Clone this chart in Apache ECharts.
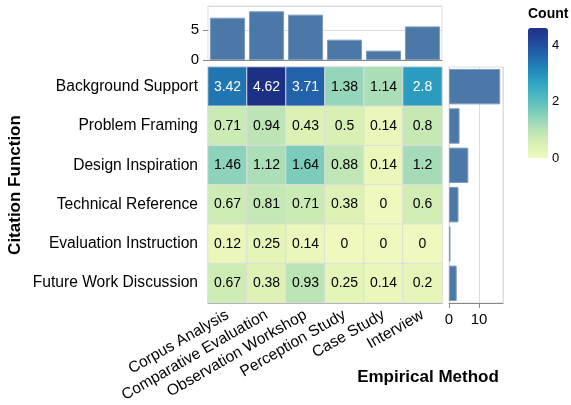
<!DOCTYPE html>
<html>
<head>
<meta charset="utf-8">
<script src="https://cdn.jsdelivr.net/npm/echarts@6/dist/echarts.min.js"></script>
<style>
html,body{margin:0;padding:0;background:#fff;}
#c{width:571px;height:405px;}
</style>
</head>
<body>
<div id="c"></div>
<script>
const methods = ['Corpus Analysis','Comparative Evaluation','Observation Workshop','Perception Study','Case Study','Interview'];
const functions = ['Background Support','Problem Framing','Design Inspiration','Technical Reference','Evaluation Instruction','Future Work Discussion'];
// values[row][col] : row = citation function, col = empirical method
const backgroundSupport    = [3.42, 4.62, 3.71, 1.38, 1.14, 2.8];
const problemFraming       = [0.71, 0.94, 0.43, 0.5, 0.14, 0.8];
const designInspiration    = [1.46, 1.12, 1.64, 0.88, 0.14, 1.2];
const technicalReference   = [0.67, 0.81, 0.71, 0.38, 0, 0.6];
const evaluationInstruction= [0.12, 0.25, 0.14, 0, 0, 0];
const futureWorkDiscussion = [0.67, 0.38, 0.93, 0.25, 0.14, 0.2];
const rows = [backgroundSupport, problemFraming, designInspiration, technicalReference, evaluationInstruction, futureWorkDiscussion];
const legendTicks = [0, 2, 4];

const colSums = methods.map((m, c) => +rows.reduce((s, r) => s + r[c], 0).toFixed(2));
const rowSums = rows.map(r => +r.reduce((s, v) => s + v, 0).toFixed(2));
const maxVal = Math.max(...rows.map(r => Math.max(...r)));

const heatData = [];
rows.forEach((r, ri) => r.forEach((v, ci) => {
  heatData.push({value: [ci, ri, v], label: {color: v > 2 ? '#fff' : '#000'}});
}));

const FONT = '"Liberation Sans", Arial, Helvetica, sans-serif';
const chart = echarts.init(document.getElementById('c'));
chart.setOption({
  animation: false,
  textStyle: {fontFamily: FONT},
  grid: [
    {left: 208, top: 67, width: 234, height: 236},
    {left: 208, top: 6, width: 234, height: 54, show: true, borderColor: '#ddd', borderWidth: 1},
    {left: 449, top: 67, width: 54, height: 236, show: true, borderColor: '#ddd', borderWidth: 1},
    {left: 528, top: 28, width: 20, height: 130}
  ],
  xAxis: [
    {type: 'category', gridIndex: 0, data: methods,
     axisLine: {lineStyle: {color: '#888'}}, axisTick: {length: 5, lineStyle: {color: '#888'}},
     axisLabel: {interval: 0, rotate: 30, fontSize: 15.6, color: '#000', margin: 11, fontFamily: FONT}},
    {type: 'category', gridIndex: 1, data: methods,
     axisLine: {lineStyle: {color: '#888'}}, axisTick: {show: false}, axisLabel: {show: false}},
    {type: 'value', gridIndex: 2, min: 0, max: 18, interval: 10,
     axisLine: {show: true, lineStyle: {color: '#888'}}, axisTick: {show: true, length: 5, lineStyle: {color: '#888'}},
     axisLabel: {fontSize: 15, color: '#000', margin: 9, showMaxLabel: false, fontFamily: FONT},
     splitLine: {show: true, lineStyle: {color: '#ddd'}}},
    {type: 'value', gridIndex: 3, show: false}
  ],
  yAxis: [
    {type: 'category', gridIndex: 0, data: functions, inverse: true,
     axisLine: {lineStyle: {color: '#888'}}, axisTick: {length: 5, lineStyle: {color: '#888'}},
     axisLabel: {interval: 0, fontSize: 15.6, color: '#000', margin: 10, fontFamily: FONT}},
    {type: 'value', gridIndex: 1, min: 0, max: 9, interval: 5,
     axisLine: {show: false}, axisTick: {show: true, length: 5, lineStyle: {color: '#888'}},
     axisLabel: {fontSize: 15, color: '#000', margin: 9, showMaxLabel: false, fontFamily: FONT},
     splitLine: {show: true, lineStyle: {color: '#ddd'}}},
    {type: 'category', gridIndex: 2, data: functions, inverse: true,
     axisLine: {show: false}, axisTick: {show: false}, axisLabel: {show: false}},
    {type: 'value', gridIndex: 3, min: 0, max: maxVal, interval: 2, position: 'right',
     axisLine: {show: false}, axisTick: {show: false}, splitLine: {show: false},
     axisLabel: {fontSize: 13, color: '#000', margin: 4, showMaxLabel: false, fontFamily: FONT,
       formatter: v => legendTicks.includes(v) ? String(v) : ''}}
  ],
  visualMap: {
    type: 'continuous', min: 0, max: maxVal, seriesIndex: 0,
    orient: 'vertical', left: 528, top: 28, itemWidth: 20, itemHeight: 130,
    padding: 0, calculable: false, hoverLink: false, text: null,
    inRange: {color: ['#eff9bd','#dbf1b4','#bde5b5','#94d5b9','#69c5be','#45b4c2','#2c9ec0','#2182b8','#2163aa','#23479c','#1c3185']}
  },
  series: [
    {type: 'heatmap', xAxisIndex: 0, yAxisIndex: 0, data: heatData,
     itemStyle: {borderColor: '#ddd', borderWidth: 1},
     label: {show: true, fontSize: 14, fontFamily: FONT, formatter: p => String(p.value[2])}},
    {type: 'bar', xAxisIndex: 1, yAxisIndex: 1, data: colSums, barCategoryGap: '10%',
     itemStyle: {color: '#4c78a8', borderColor: '#7d9cc2', borderWidth: 1}},
    {type: 'bar', xAxisIndex: 2, yAxisIndex: 2, data: rowSums, barCategoryGap: '10%',
     itemStyle: {color: '#4c78a8', borderColor: '#7d9cc2', borderWidth: 1}}
  ],
  graphic: [
    {type: 'text', x: 528, y: 14, style: {text: 'Count', font: 'bold 14px ' + FONT, fill: '#000', textVerticalAlign: 'middle'}},
    {type: 'text', x: 15, y: 185, rotation: Math.PI / 2,
     style: {text: 'Citation Function', font: 'bold 17px ' + FONT, fill: '#000', textAlign: 'center', textVerticalAlign: 'middle'}},
    {type: 'text', x: 428, y: 377,
     style: {text: 'Empirical Method', font: 'bold 17px ' + FONT, fill: '#000', textAlign: 'center', textVerticalAlign: 'middle'}}
  ]
});
</script>
</body>
</html>
